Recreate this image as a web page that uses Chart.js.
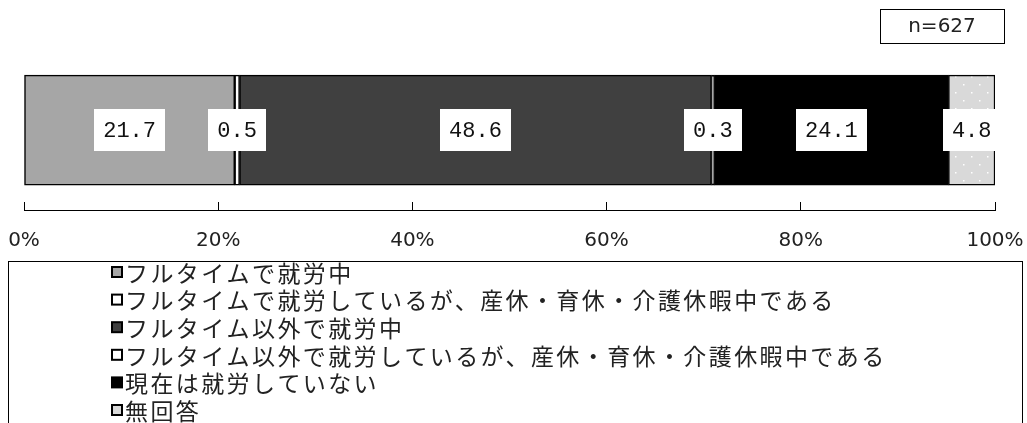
<!DOCTYPE html>
<html>
<head>
<meta charset="utf-8">
<script src="https://cdn.jsdelivr.net/npm/chart.js@4/dist/chart.umd.min.js"></script>
<style>
  body { margin: 0; background: #fff; }
  #chartCanvas { display: block; }
</style>
</head>
<body>
<canvas id="chartCanvas" width="1027" height="423"></canvas>
<script>
const CATEGORIES = ["全体"];
const SERIES_LABELS = [
  "フルタイムで就労中",
  "フルタイムで就労しているが、産休・育休・介護休暇中である",
  "フルタイム以外で就労中",
  "フルタイム以外で就労しているが、産休・育休・介護休暇中である",
  "現在は就労していない",
  "無回答",
];
const SERIES_VALUES = [21.7, 0.5, 48.6, 0.3, 24.1, 4.8];
const TICK_VALUES = [0, 20, 40, 60, 80, 100];
const SAMPLE_SIZE = "n=627";

const COLORS = ["#a6a6a6", "#ffffff", "#404040", "#ffffff", "#000000", "#d9d9d9"];
const NARROW_FONT = "'Liberation Sans Narrow', 'DejaVu Sans', sans-serif";

// dotted fill for the "no answer" segment
function makeDotPattern() {
  const tile = document.createElement("canvas");
  tile.width = 16;
  tile.height = 16;
  const tctx = tile.getContext("2d");
  tctx.fillStyle = "#d9d9d9";
  tctx.fillRect(0, 0, 16, 16);
  tctx.fillStyle = "#ffffff";
  tctx.fillRect(3, 4, 1.5, 1.5);
  tctx.fillRect(11, 12, 1.5, 1.5);
  return tctx.createPattern(tile, "repeat");
}

const fills = COLORS.slice();
fills[5] = makeDotPattern();

const datasets = SERIES_LABELS.map((label, i) => {
  return {
    label: label,
    data: CATEGORIES.map(() => ({ x: SERIES_VALUES[i], y: 0 })),
    backgroundColor: fills[i],
    borderColor: "#000000",
    borderWidth: 1.5,
    borderSkipped: false,
    barThickness: 110,
  };
});

const valueLabels = {
  id: "valueLabels",
  afterDatasetsDraw(chart) {
    const ctx = chart.ctx;
    ctx.save();
    ctx.font = "22px 'Liberation Mono', 'DejaVu Sans Mono', monospace";
    ctx.textAlign = "center";
    ctx.textBaseline = "middle";
    chart.data.datasets.forEach((ds, i) => {
      const meta = chart.getDatasetMeta(i);
      meta.data.forEach((bar) => {
        const text = SERIES_VALUES[i].toFixed(1);
        const cx = (bar.x + bar.base) / 2;
        const w = ctx.measureText(text).width + 18;
        const h = 42;
        ctx.fillStyle = "#ffffff";
        ctx.fillRect(Math.round(cx - w / 2), Math.round(bar.y - h / 2), Math.round(w), h);
        ctx.fillStyle = "#111111";
        ctx.fillText(text, cx, bar.y + 1);
      });
    });
    ctx.restore();
  },
};

const sideBoxes = {
  id: "sideBoxes",
  afterDraw(chart) {
    const ctx = chart.ctx;
    ctx.save();

    // n= box
    ctx.strokeStyle = "#000000";
    ctx.lineWidth = 1;
    ctx.strokeRect(880.5, 9.5, 124, 34);
    ctx.fillStyle = "#222222";
    ctx.font = "20px " + NARROW_FONT;
    ctx.textAlign = "center";
    ctx.textBaseline = "middle";
    ctx.fillText(SAMPLE_SIZE, 942, 27);

    // legend box
    ctx.strokeRect(8.5, 261.5, 1014, 200);
    ctx.font = "23px 'Noto Sans CJK JP', sans-serif";
    ctx.letterSpacing = "2.4px";
    ctx.textAlign = "left";
    chart.data.datasets.forEach((ds, i) => {
      const y = 272 + i * 27.6;
      ctx.fillStyle = COLORS[i];
      ctx.fillRect(112, y - 5, 10, 10);
      ctx.lineWidth = 2;
      ctx.strokeStyle = "#000000";
      ctx.strokeRect(112, y - 5, 10, 10);
      ctx.fillStyle = "#222222";
      ctx.fillText(ds.label, 125, y + 1);
    });
    ctx.restore();
  },
};

const ctx = document.getElementById("chartCanvas").getContext("2d");
new Chart(ctx, {
  type: "bar",
  data: { datasets: datasets },
  options: {
    indexAxis: "y",
    responsive: false,
    animation: false,
    layout: { padding: { left: 24, right: 32, top: 73, bottom: 173 } },
    plugins: { legend: { display: false }, tooltip: { enabled: false } },
    scales: {
      x: {
        type: "linear",
        stacked: true,
        min: 0,
        max: 100,
        afterBuildTicks: (scale) => {
          scale.ticks = TICK_VALUES.map((v) => ({ value: v }));
        },
        afterFit: (scale) => {
          scale.height = 40;
          scale.paddingLeft = 0;
          scale.paddingRight = 0;
        },
        ticks: {
          color: "#222222",
          padding: 27,
          maxRotation: 0,
          font: { family: NARROW_FONT, size: 20 },
          callback: (v) => v + "%",
        },
        grid: { drawOnChartArea: false, color: "#000000", tickLength: -8 },
        border: { display: true, color: "#000000", width: 1 },
      },
      y: {
        type: "linear",
        stacked: true,
        display: false,
        min: -0.6,
        max: 0.4,
      },
    },
  },
  plugins: [valueLabels, sideBoxes],
});
</script>
</body>
</html>
